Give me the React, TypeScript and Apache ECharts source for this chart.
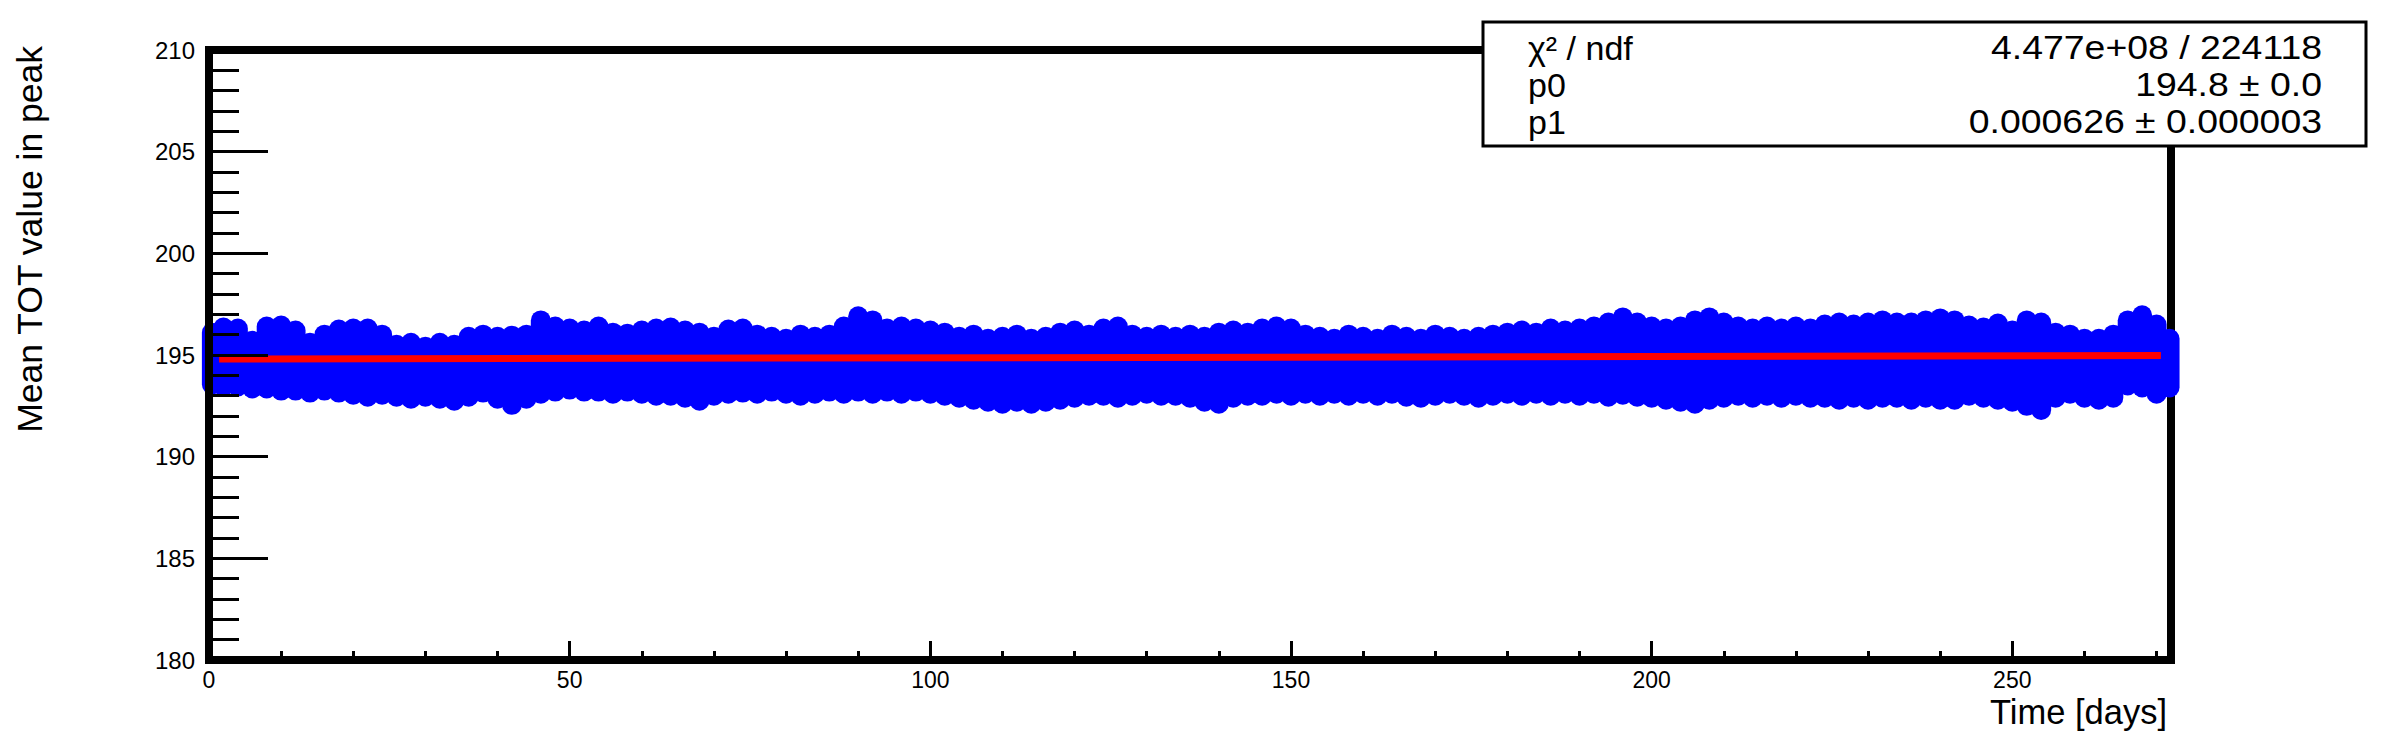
import React, { useEffect, useRef } from "react";
import * as echarts from "echarts";

// ---- data ----
// sampled time points [days]
const days = [
  0.4, 2, 4, 6, 8, 10, 12, 14, 16, 18, 20, 22, 24, 26, 28, 30, 32, 34, 36, 38,
  40, 42, 44, 46, 48, 50, 52, 54, 56, 58, 60, 62, 64, 66, 68, 70, 72, 74, 76, 78,
  80, 82, 84, 86, 88, 90, 92, 94, 96, 98, 100, 102, 104, 106, 108, 110, 112, 114, 116, 118,
  120, 122, 124, 126, 128, 130, 132, 134, 136, 138, 140, 142, 144, 146, 148, 150, 152, 154, 156, 158,
  160, 162, 164, 166, 168, 170, 172, 174, 176, 178, 180, 182, 184, 186, 188, 190, 192, 194, 196, 198,
  200, 202, 204, 206, 208, 210, 212, 214, 216, 218, 220, 222, 224, 226, 228, 230, 232, 234, 236, 238,
  240, 242, 244, 246, 248, 250, 252, 254, 256, 258, 260, 262, 264, 266, 268, 270, 271.8,
];
// highest measured mean TOT around each time point
const upperTOT = [
  196.1, 196.35, 196.3, 195.7, 196.4, 196.45, 196.2, 195.6, 196.0, 196.25, 196.3, 196.3, 196.0, 195.5, 195.6, 195.4, 195.6, 195.5, 195.9, 196.0,
  195.9, 195.95, 196.0, 196.7, 196.4, 196.3, 196.2, 196.4, 196.1, 196.05, 196.2, 196.3, 196.35, 196.2, 196.1, 195.9, 196.25, 196.3, 196.0, 195.9,
  195.8, 196.0, 195.9, 196.0, 196.4, 196.9, 196.7, 196.3, 196.4, 196.3, 196.2, 196.1, 195.9, 196.0, 195.8, 195.9, 196.0, 195.8, 195.9, 196.1,
  196.2, 196.0, 196.3, 196.4, 196.0, 195.9, 196.0, 195.9, 196.0, 195.9, 196.1, 196.2, 196.1, 196.3, 196.4, 196.3, 196.0, 195.9, 195.8, 196.0,
  195.9, 195.8, 196.0, 195.9, 195.8, 196.0, 195.9, 195.8, 195.9, 196.0, 196.1, 196.2, 196.1, 196.3, 196.2, 196.3, 196.4, 196.6, 196.85, 196.6,
  196.4, 196.3, 196.4, 196.7, 196.85, 196.6, 196.4, 196.3, 196.4, 196.3, 196.4, 196.3, 196.5, 196.6, 196.5, 196.6, 196.7, 196.6, 196.6, 196.7,
  196.8, 196.7, 196.45, 196.35, 196.55, 196.2, 196.7, 196.6, 196.1, 196.0, 195.8, 195.8, 196.0, 196.7, 196.95, 196.5, 195.8,
];
// lowest measured mean TOT around each time point
const lowerTOT = [
  193.55, 193.45, 193.45, 193.35, 193.35, 193.25, 193.25, 193.15, 193.25, 193.15, 193.05, 192.95, 193.05, 192.95, 192.85, 192.95, 192.85, 192.75, 192.95, 193.15,
  192.85, 192.55, 192.85, 193.1, 193.2, 193.3, 193.2, 193.2, 193.1, 193.2, 193.1, 193.0, 193.0, 192.9, 192.75, 193.0, 193.1, 193.15, 193.1, 193.2,
  193.1, 193.0, 193.1, 193.2, 193.1, 193.2, 193.1, 193.2, 193.1, 193.2, 193.1, 193.0, 192.9, 192.8, 192.7, 192.6, 192.7, 192.6, 192.7, 192.8,
  192.9, 193.0, 193.0, 192.9, 193.0, 193.1, 193.0, 193.0, 192.9, 192.7, 192.6, 192.9, 193.0, 193.0, 193.1, 193.0, 193.1, 193.0, 193.1, 193.0,
  193.1, 193.0, 193.1, 192.95, 192.9, 193.0, 193.1, 193.0, 192.9, 193.0, 193.1, 193.0, 193.1, 193.0, 193.1, 193.0, 193.1, 192.95, 193.05, 192.95,
  192.9, 192.8, 192.7, 192.6, 192.8, 192.9, 193.0, 192.9, 193.0, 192.9, 193.0, 192.9, 192.9, 192.8, 192.9, 192.8, 192.9, 192.9, 192.8, 192.9,
  192.8, 192.8, 193.0, 192.9, 192.8, 192.7, 192.5, 192.3, 192.9, 193.1, 192.9, 192.8, 192.9, 193.5, 193.4, 193.1, 193.4,
];
// linear fit (pol1) drawn over the fitted range
const fitDays = [1.4, 270.6];
const fitTOT = [194.8, 194.97];
// fit statistics box
const statLabels = ["χ² / ndf", "p0", "p1"];
const statValues = ["4.477e+08 / 224118", "194.8 ± 0.0", "0.000626 ± 0.000003"];
// axes
const xMin = 0;
const xMax = 272;
const yMin = 180;
const yMax = 210;
const xTitle = "Time [days]";
const yTitle = "Mean TOT value in peak";

const FONT = "'Liberation Sans', Arial, Helvetica, sans-serif";

export default function App() {
  const ref = useRef<HTMLDivElement>(null);

  useEffect(() => {
    if (!ref.current) return;
    const chart = echarts.init(ref.current, null, { renderer: "svg" });

    const bandData = days.map((d, i) => [d, lowerTOT[i], upperTOT[i]]);
    const fitData = fitDays.map((d, i) => [d, fitTOT[i]]);

    const statEls: any[] = [
      {
        type: "rect",
        shape: { x: 1483, y: 22, width: 883, height: 124 },
        style: { fill: "#fff", stroke: "#000", lineWidth: 3 },
        z: 100,
      },
    ];
    statLabels.forEach((t, i) => {
      statEls.push({
        type: "text",
        x: 1528,
        y: 48 + i * 37,
        z: 101,
        style: {
          text: t,
          fontSize: 34,
          lineHeight: 32,
          fontFamily: FONT,
          fill: "#000",
          align: "left",
          verticalAlign: "middle",
        },
      });
      statEls.push({
        type: "text",
        x: 2322,
        y: 48 + i * 37,
        z: 101,
        scaleX: 1.1,
        style: {
          text: statValues[i],
          fontSize: 34,
          lineHeight: 32,
          fontFamily: FONT,
          fill: "#000",
          align: "right",
          verticalAlign: "middle",
        },
      });
    });

    chart.setOption({
      animation: false,
      backgroundColor: "#fff",
      grid: {
        left: 209,
        right: 212,
        top: 50,
        bottom: 74,
        show: true,
        borderColor: "#000",
        borderWidth: 8,
        backgroundColor: "transparent",
      },
      xAxis: [
        {
          type: "value",
          min: xMin,
          max: xMax,
          interval: 50,
          position: "bottom",
          axisLine: { show: true, onZero: false, lineStyle: { color: "#000", width: 8 } },
          axisTick: { show: true, inside: true, length: 19, lineStyle: { color: "#000", width: 3 } },
          axisLabel: {
            show: true,
            color: "#000",
            fontSize: 23,
            fontFamily: FONT,
            margin: 8,
            showMaxLabel: false,
          },
          splitLine: { show: false },
        },
        {
          type: "value",
          min: xMin,
          max: xMax,
          interval: 10,
          position: "bottom",
          axisLine: { show: false },
          axisTick: { show: true, inside: true, length: 9, lineStyle: { color: "#000", width: 3 } },
          axisLabel: { show: false },
          splitLine: { show: false },
        },
      ],
      yAxis: {
        type: "value",
        min: yMin,
        max: yMax,
        interval: 5,
        z: 10,
        axisLine: { show: true, onZero: false, lineStyle: { color: "#000", width: 8 } },
        axisTick: { show: true, inside: true, length: 59, lineStyle: { color: "#000", width: 3 } },
        minorTick: { show: true, splitNumber: 5, length: 30, lineStyle: { color: "#000", width: 3 } },
        axisLabel: { color: "#000", fontSize: 24, fontFamily: FONT, margin: 14 },
        splitLine: { show: false },
        minorSplitLine: { show: false },
      },
      series: [
        {
          type: "custom",
          name: "data",
          xAxisIndex: 0,
          clip: false,
          z: 3,
          encode: { x: 0, y: [1, 2] },
          data: bandData,
          renderItem: (params: any, api: any) => {
            const x = api.value(0);
            const p1 = api.coord([x, api.value(1)]);
            const p2 = api.coord([x, api.value(2)]);
            return {
              type: "line",
              shape: { x1: p1[0], y1: p1[1], x2: p2[0], y2: p2[1] },
              style: { stroke: "#0000ff", lineWidth: 20, lineCap: "round" },
            };
          },
        },
        {
          type: "line",
          name: "fit",
          xAxisIndex: 0,
          z: 5,
          data: fitData,
          symbol: "none",
          lineStyle: { color: "#ff0000", width: 7 },
        },
      ],
      graphic: [
        {
          type: "text",
          x: 2167,
          y: 712,
          style: {
            text: xTitle,
            fontSize: 34.5,
            fontFamily: FONT,
            fill: "#000",
            align: "right",
            verticalAlign: "middle",
          },
        },
        {
          type: "text",
          x: 30,
          y: 46,
          rotation: Math.PI / 2,
          style: {
            text: yTitle,
            fontSize: 35.5,
            fontFamily: FONT,
            fill: "#000",
            align: "right",
            verticalAlign: "middle",
          },
        },
        { type: "group", children: statEls },
      ],
    });

    return () => chart.dispose();
  }, []);

  return (
    <div
      ref={ref}
      style={{ position: "fixed", left: 0, top: 0, width: 2383, height: 734, background: "#fff" }}
    />
  );
}
